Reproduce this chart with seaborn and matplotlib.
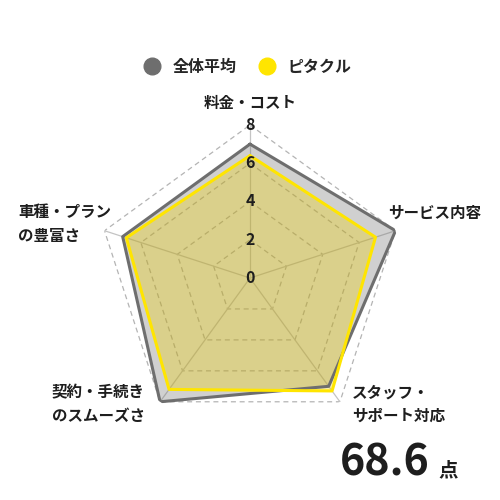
import numpy as np
import pandas as pd
import seaborn as sns
import matplotlib.pyplot as plt
from matplotlib.lines import Line2D

sns.set_style("white")
plt.rcParams['font.family'] = ['Noto Sans CJK JP', 'DejaVu Sans']

# data
categories = ["料金・コスト", "サービス内容", "スタッフ・\nサポート対応", "契約・手続き\nのスムーズさ", "車種・プラン\nの豊富さ"]
average = [7.0, 8.0, 7.0, 8.0, 7.0]
pitakuru = [6.4, 6.9, 7.3, 7.2, 6.8]
series_names = ["全体平均", "ピタクル"]
ticks = [0, 2, 4, 6, 8]
score = "68.6"

gray = "#6e6e6e"
yellow = "#ffe500"
txt = "#1e1e1e"

n = len(categories)
theta = np.linspace(0, 2 * np.pi, n, endpoint=False)
theta_c = np.append(theta, 2 * np.pi)

df = pd.concat([
    pd.DataFrame({"theta": theta_c, "score": average + average[:1], "series": series_names[0]}),
    pd.DataFrame({"theta": theta_c, "score": pitakuru + pitakuru[:1], "series": series_names[1]}),
])

fig = plt.figure(figsize=(5, 5), dpi=100)
R = 153 / 500
cx, cy = 0.5, 1 - 278 / 500
ax = fig.add_axes([cx - R, cy - R, 2 * R, 2 * R], projection="polar")
ax.set_theta_offset(np.pi / 2)
ax.set_theta_direction(-1)
ax.set_ylim(0, 8)
ax.grid(False)
ax.spines["polar"].set_visible(False)
ax.set_xticks([])
ax.set_yticks([])
ax.patch.set_alpha(0)

# pentagon grid
for r in ticks[1:]:
    ax.plot(theta_c, [r] * (n + 1), color="#b4b4b4", lw=0.9, ls=(0, (4, 3)), zorder=1)
for t in theta:
    ax.plot([t, t], [0, 8], color="#c4c4c4", lw=0.9, zorder=1)

# fills + lines
ax.fill(theta_c, average + average[:1], color=gray, alpha=0.32, lw=0, zorder=2)
ax.fill(theta_c, pitakuru + pitakuru[:1], color="#f0d000", alpha=0.33, lw=0, zorder=3)
sns.lineplot(data=df, x="theta", y="score", hue="series", hue_order=series_names,
             palette=[gray, yellow], sort=False, estimator=None, lw=2.2,
             legend=False, ax=ax, zorder=4)
ax.set_xlabel("")
ax.set_ylabel("")
ax.set_ylim(0, 8)

for r in ticks:
    ax.text(0, r, str(r), ha="center", va="center", fontsize=11.5,
            fontweight="bold", color=txt, zorder=6)

# category labels (pixel positions)
def ftext(x, y, s, **kw):
    fig.text(x / 500, 1 - y / 500, s, color=txt, fontweight="bold", **kw)

ftext(250, 103, categories[0], fontsize=11.2, ha="center", va="center")
ftext(388, 213, categories[1], fontsize=11.2, ha="left", va="center")
ftext(352, 404, categories[2], fontsize=11.2, ha="left", va="center", linespacing=1.55)
ftext(52, 404, categories[3], fontsize=11.2, ha="left", va="center", linespacing=1.55)
ftext(18, 224, categories[4], fontsize=11.2, ha="left", va="center", linespacing=1.55)

# score
ftext(340, 476, score, fontsize=31, ha="left", va="baseline")
ftext(438, 476, "点", fontsize=14, ha="left", va="baseline")

# legend
handles = [Line2D([], [], marker="o", ls="", markersize=12, color=c) for c in [gray, yellow]]
fig.legend(handles, series_names, loc="center", bbox_to_anchor=(0.488, 1 - 67 / 500),
           ncol=2, frameon=False, handletextpad=0.3, columnspacing=0.9,
           prop={"size": 11.5, "weight": "bold"})

fig.savefig("out.png", dpi=100, facecolor="white")
